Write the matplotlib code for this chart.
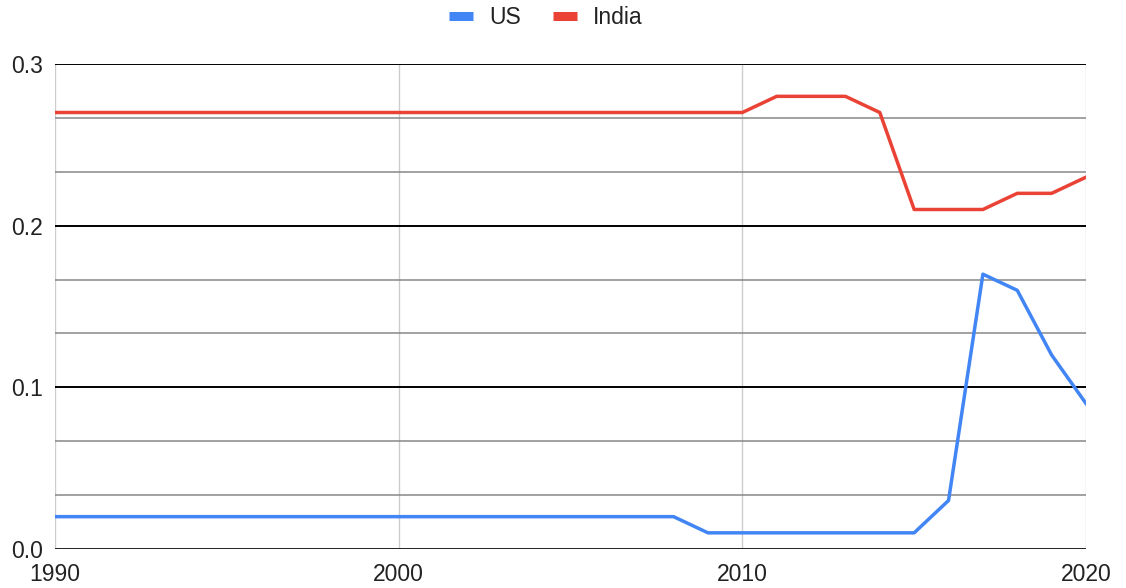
import matplotlib
matplotlib.use("Agg")
import matplotlib.pyplot as plt
from matplotlib.ticker import MultipleLocator

plt.rcParams["font.family"] = ["Liberation Sans", "DejaVu Sans"]

years = list(range(1990, 2021))
us = [0.02] * 19 + [0.01] * 7 + [0.03, 0.17, 0.16, 0.12, 0.09]
india = [0.27] * 21 + [0.28, 0.28, 0.28, 0.27, 0.21, 0.21, 0.21, 0.22, 0.22, 0.23]

fig = plt.figure(figsize=(11.26, 5.88), dpi=100)
ax = fig.add_axes([55 / 1126, 1 - 549 / 588, (1086 - 55) / 1126, (549 - 64) / 588])

ax.plot(years, us, color="#4285F4", lw=2.5, label="US", zorder=3, solid_joinstyle="round")
ax.plot(years, india, color="#EA4335", lw=2.5, label="India", zorder=3, solid_joinstyle="round")

ax.set_xlim(1990, 2020)
ax.set_ylim(0, 0.3)
ax.xaxis.set_major_locator(MultipleLocator(10))
ax.yaxis.set_major_locator(MultipleLocator(0.1))
ax.yaxis.set_minor_locator(MultipleLocator(0.1 / 3))
ax.yaxis.set_major_formatter(plt.FuncFormatter(lambda v, p: f"{v:.1f}"))

ax.grid(True, axis="y", which="major", color="#000000", lw=1.4)
ax.grid(True, axis="y", which="minor", color="#888888", lw=1.1)
ax.grid(True, axis="x", which="major", color="#cccccc", lw=1.0)
ax.set_axisbelow(True)
for s in ax.spines.values():
    s.set_visible(False)
ax.axhline(0, color="#333333", lw=1.8, zorder=2)

ax.tick_params(axis="both", which="both", length=0, labelsize=16.5, labelcolor="#222222")
ax.tick_params(axis="y", pad=9)
ax.tick_params(axis="x", pad=10)

fig.legend(loc="center", bbox_to_anchor=(546 / 1126, 1 - 18 / 588), ncol=2, frameon=False,
           fontsize=16.5, handlelength=1.05, handletextpad=0.7, columnspacing=1.4,
           labelcolor="#222222")
for h in fig.legends[0].get_lines():
    h.set_linewidth(6.5)
    h.set_solid_capstyle("butt")

fig.savefig("out.png", dpi=100)
